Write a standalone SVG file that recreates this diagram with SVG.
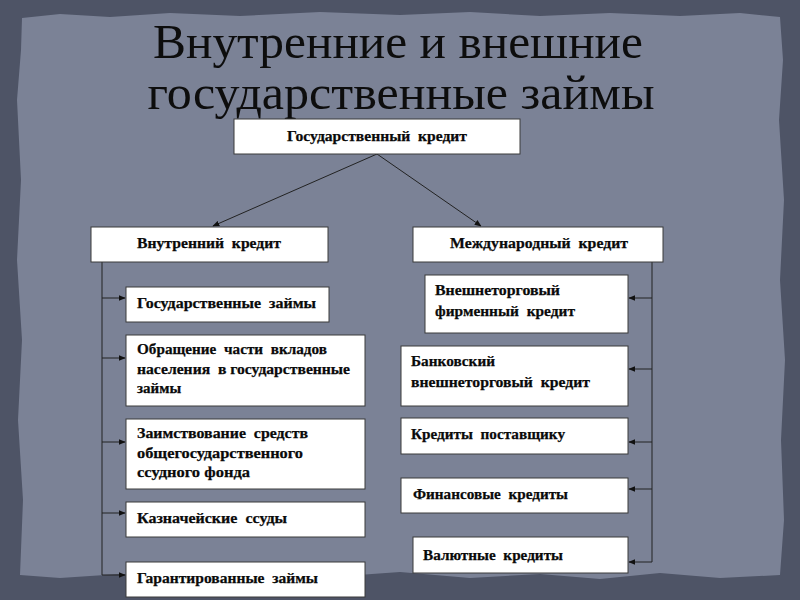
<svg xmlns="http://www.w3.org/2000/svg" width="800" height="600" viewBox="0 0 800 600">
<defs>
<style>
.box{fill:#ffffff;stroke:#3a3a3a;stroke-width:1}
.t{font-family:"Liberation Serif","Times New Roman",serif;font-weight:bold;font-size:15px;fill:#0a0a0a;stroke:#0a0a0a;stroke-width:0.25;white-space:pre}
.c{stroke:#222;stroke-width:1;fill:none}
.title{font-family:"Liberation Serif","Times New Roman",serif;font-size:48px;fill:#0d0d0d}
</style>
<marker id="ah" viewBox="0 0 10 10" refX="9" refY="5" markerWidth="7" markerHeight="7" orient="auto" markerUnits="userSpaceOnUse">
<path d="M0,1 L10,5 L0,9 z" fill="#111"/>
</marker>
</defs>
<rect x="0" y="0" width="800" height="600" fill="#4e5466"/>
<path d="M22,18 L60,14 L110,17 L170,13 L240,16 L320,12 L400,15 L470,12 L540,16 L610,13 L680,16 L740,13 L780,17 L783,60 L779,120 L784,200 L780,280 L785,360 L781,440 L784,520 L780,575 L720,578 L660,573 L600,579 L540,574 L470,578 L400,572 L330,577 L260,573 L190,578 L120,574 L60,578 L20,575 L23,500 L18,420 L22,340 L17,260 L21,180 L17,100 L21,50 Z" fill="#7b8296"/>
<g id="title">
<text class="title" x="398" y="58" text-anchor="middle" textLength="490" lengthAdjust="spacingAndGlyphs">Внутренние и внешние</text>
<text class="title" x="401" y="109" text-anchor="middle" textLength="507" lengthAdjust="spacingAndGlyphs">государственные займы</text>
</g>
<g id="connectors">
<line class="c" x1="377" y1="154" x2="213" y2="226" marker-end="url(#ah)"/>
<line class="c" x1="377" y1="154" x2="481" y2="226" marker-end="url(#ah)"/>
<polyline class="c" points="102,262 102,575"/>
<line class="c" x1="102" y1="298" x2="125" y2="298" marker-end="url(#ah)"/>
<line class="c" x1="102" y1="358" x2="125" y2="358" marker-end="url(#ah)"/>
<line class="c" x1="102" y1="442" x2="125" y2="442" marker-end="url(#ah)"/>
<line class="c" x1="102" y1="513" x2="125" y2="513" marker-end="url(#ah)"/>
<line class="c" x1="102" y1="575" x2="125" y2="575" marker-end="url(#ah)"/>
<polyline class="c" points="652,262 652,562"/>
<line class="c" x1="652" y1="298" x2="629" y2="298" marker-end="url(#ah)"/>
<line class="c" x1="652" y1="369" x2="629" y2="369" marker-end="url(#ah)"/>
<line class="c" x1="652" y1="442" x2="629" y2="442" marker-end="url(#ah)"/>
<line class="c" x1="652" y1="489" x2="629" y2="489" marker-end="url(#ah)"/>
<line class="c" x1="652" y1="562" x2="629" y2="562" marker-end="url(#ah)"/>
</g>
<g id="n-gos-kredit">
<rect class="box" x="234" y="119" width="286" height="35"/>
<text class="t" x="377" y="141" text-anchor="middle" textLength="180" lengthAdjust="spacingAndGlyphs">Государственный  кредит</text>
</g>
<g id="n-vnutr">
<rect class="box" x="91" y="227" width="237" height="35"/>
<text class="t" x="209" y="248" text-anchor="middle" textLength="144" lengthAdjust="spacingAndGlyphs">Внутренний  кредит</text>
</g>
<g id="n-mezhd">
<rect class="box" x="413" y="227" width="250" height="35"/>
<text class="t" x="539" y="248" text-anchor="middle" textLength="178" lengthAdjust="spacingAndGlyphs">Международный  кредит</text>
</g>
<g id="n-gos-zaimy">
<rect class="box" x="126" y="287" width="203" height="35"/>
<text class="t" x="137" y="308" textLength="179" lengthAdjust="spacingAndGlyphs">Государственные  займы</text>
</g>
<g id="n-obrash">
<rect class="box" x="126" y="335" width="239" height="71"/>
<text class="t" x="137" y="354" textLength="190" lengthAdjust="spacingAndGlyphs">Обращение  части  вкладов</text>
<text class="t" x="137" y="374" textLength="213" lengthAdjust="spacingAndGlyphs">населения  в государственные</text>
<text class="t" x="137" y="393">займы</text>
</g>
<g id="n-zaimstv">
<rect class="box" x="126" y="419" width="239" height="70"/>
<text class="t" x="137" y="438" textLength="171" lengthAdjust="spacingAndGlyphs">Заимствование  средств</text>
<text class="t" x="137" y="458" textLength="166" lengthAdjust="spacingAndGlyphs">общегосударственного</text>
<text class="t" x="137" y="477" textLength="113" lengthAdjust="spacingAndGlyphs">ссудного фонда</text>
</g>
<g id="n-kaznach">
<rect class="box" x="126" y="502" width="239" height="35"/>
<text class="t" x="137" y="523" textLength="150" lengthAdjust="spacingAndGlyphs">Казначейские  ссуды</text>
</g>
<g id="n-garant">
<rect class="box" x="126" y="562" width="239" height="35"/>
<text class="t" x="137" y="583" textLength="181" lengthAdjust="spacingAndGlyphs">Гарантированные  займы</text>
</g>
<g id="n-vneshtorg">
<rect class="box" x="425" y="275" width="203" height="58"/>
<text class="t" x="435" y="295" textLength="125" lengthAdjust="spacingAndGlyphs">Внешнеторговый</text>
<text class="t" x="435" y="316" textLength="140" lengthAdjust="spacingAndGlyphs">фирменный  кредит</text>
</g>
<g id="n-bank">
<rect class="box" x="401" y="346" width="227" height="60"/>
<text class="t" x="411" y="366" textLength="84" lengthAdjust="spacingAndGlyphs">Банковский</text>
<text class="t" x="411" y="387" textLength="179" lengthAdjust="spacingAndGlyphs">внешнеторговый  кредит</text>
</g>
<g id="n-postav">
<rect class="box" x="401" y="418" width="227" height="36"/>
<text class="t" x="411" y="439" textLength="154" lengthAdjust="spacingAndGlyphs">Кредиты  поставщику</text>
</g>
<g id="n-finans">
<rect class="box" x="401" y="478" width="227" height="35"/>
<text class="t" x="413" y="499" textLength="155" lengthAdjust="spacingAndGlyphs">Финансовые  кредиты</text>
</g>
<g id="n-valut">
<rect class="box" x="413" y="537" width="215" height="36"/>
<text class="t" x="423" y="560" textLength="140" lengthAdjust="spacingAndGlyphs">Валютные  кредиты</text>
</g>
</svg>
